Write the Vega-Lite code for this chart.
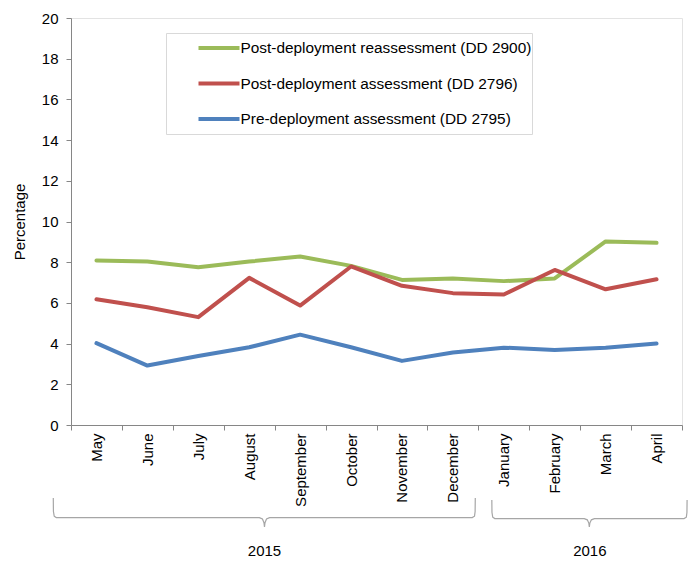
{
  "$schema": "https://vega.github.io/schema/vega-lite/v6.json",
  "width": 611,
  "height": 407,
  "autosize": "none",
  "padding": {"left": 71, "top": 18, "right": 7, "bottom": 139},
  "config": {
    "font": "Liberation Sans",
    "view": {"stroke": "#e3e3e3", "strokeWidth": 1},
    "axis": {"domainColor": "#868686", "tickColor": "#868686", "labelColor": "#000000", "labelFontSize": 15, "titleFontSize": 15, "titleFontWeight": "normal", "titleColor": "#000000", "grid": false}
  },
  "datasets": {
    "series": [
      {"month": "May", "series": "Post-deployment reassessment (DD 2900)", "value": 8.08},
      {"month": "June", "series": "Post-deployment reassessment (DD 2900)", "value": 8.03},
      {"month": "July", "series": "Post-deployment reassessment (DD 2900)", "value": 7.75},
      {"month": "August", "series": "Post-deployment reassessment (DD 2900)", "value": 8.03},
      {"month": "September", "series": "Post-deployment reassessment (DD 2900)", "value": 8.28},
      {"month": "October", "series": "Post-deployment reassessment (DD 2900)", "value": 7.82},
      {"month": "November", "series": "Post-deployment reassessment (DD 2900)", "value": 7.13},
      {"month": "December", "series": "Post-deployment reassessment (DD 2900)", "value": 7.2},
      {"month": "January", "series": "Post-deployment reassessment (DD 2900)", "value": 7.07},
      {"month": "February", "series": "Post-deployment reassessment (DD 2900)", "value": 7.2},
      {"month": "March", "series": "Post-deployment reassessment (DD 2900)", "value": 9.02},
      {"month": "April", "series": "Post-deployment reassessment (DD 2900)", "value": 8.95},
      {"month": "May", "series": "Post-deployment assessment (DD 2796)", "value": 6.18},
      {"month": "June", "series": "Post-deployment assessment (DD 2796)", "value": 5.79},
      {"month": "July", "series": "Post-deployment assessment (DD 2796)", "value": 5.3},
      {"month": "August", "series": "Post-deployment assessment (DD 2796)", "value": 7.23},
      {"month": "September", "series": "Post-deployment assessment (DD 2796)", "value": 5.87},
      {"month": "October", "series": "Post-deployment assessment (DD 2796)", "value": 7.79},
      {"month": "November", "series": "Post-deployment assessment (DD 2796)", "value": 6.84},
      {"month": "December", "series": "Post-deployment assessment (DD 2796)", "value": 6.48},
      {"month": "January", "series": "Post-deployment assessment (DD 2796)", "value": 6.41},
      {"month": "February", "series": "Post-deployment assessment (DD 2796)", "value": 7.62},
      {"month": "March", "series": "Post-deployment assessment (DD 2796)", "value": 6.67},
      {"month": "April", "series": "Post-deployment assessment (DD 2796)", "value": 7.16},
      {"month": "May", "series": "Pre-deployment assessment (DD 2795)", "value": 4.02},
      {"month": "June", "series": "Pre-deployment assessment (DD 2795)", "value": 2.92},
      {"month": "July", "series": "Pre-deployment assessment (DD 2795)", "value": 3.39},
      {"month": "August", "series": "Pre-deployment assessment (DD 2795)", "value": 3.82},
      {"month": "September", "series": "Pre-deployment assessment (DD 2795)", "value": 4.44},
      {"month": "October", "series": "Pre-deployment assessment (DD 2795)", "value": 3.82},
      {"month": "November", "series": "Pre-deployment assessment (DD 2795)", "value": 3.15},
      {"month": "December", "series": "Pre-deployment assessment (DD 2795)", "value": 3.56},
      {"month": "January", "series": "Pre-deployment assessment (DD 2795)", "value": 3.8},
      {"month": "February", "series": "Pre-deployment assessment (DD 2795)", "value": 3.69},
      {"month": "March", "series": "Pre-deployment assessment (DD 2795)", "value": 3.8},
      {"month": "April", "series": "Pre-deployment assessment (DD 2795)", "value": 4.0}
    ],
    "brackets": [
      {"g": "2015", "i": 0, "x": -0.348, "y": -3.59},
      {"g": "2015", "i": 1, "x": -0.345, "y": -4.25},
      {"g": "2015", "i": 2, "x": -0.33, "y": -4.48},
      {"g": "2015", "i": 3, "x": -0.29, "y": -4.55},
      {"g": "2015", "i": 4, "x": 3.70, "y": -4.55},
      {"g": "2015", "i": 5, "x": 3.76, "y": -4.62},
      {"g": "2015", "i": 6, "x": 3.79, "y": -4.8},
      {"g": "2015", "i": 7, "x": 3.80, "y": -5.01},
      {"g": "2015", "i": 8, "x": 3.81, "y": -4.8},
      {"g": "2015", "i": 9, "x": 3.84, "y": -4.62},
      {"g": "2015", "i": 10, "x": 3.90, "y": -4.55},
      {"g": "2015", "i": 11, "x": 7.88, "y": -4.55},
      {"g": "2015", "i": 12, "x": 7.925, "y": -4.48},
      {"g": "2015", "i": 13, "x": 7.937, "y": -4.25},
      {"g": "2015", "i": 14, "x": 7.94, "y": -3.59},
      {"g": "2016", "i": 0, "x": 8.265, "y": -3.69},
      {"g": "2016", "i": 1, "x": 8.268, "y": -4.3},
      {"g": "2016", "i": 2, "x": 8.283, "y": -4.53},
      {"g": "2016", "i": 3, "x": 8.323, "y": -4.6},
      {"g": "2016", "i": 4, "x": 10.08, "y": -4.6},
      {"g": "2016", "i": 5, "x": 10.14, "y": -4.66},
      {"g": "2016", "i": 6, "x": 10.17, "y": -4.82},
      {"g": "2016", "i": 7, "x": 10.18, "y": -5.01},
      {"g": "2016", "i": 8, "x": 10.19, "y": -4.82},
      {"g": "2016", "i": 9, "x": 10.22, "y": -4.66},
      {"g": "2016", "i": 10, "x": 10.28, "y": -4.6},
      {"g": "2016", "i": 11, "x": 12.04, "y": -4.6},
      {"g": "2016", "i": 12, "x": 12.085, "y": -4.53},
      {"g": "2016", "i": 13, "x": 12.097, "y": -4.3},
      {"g": "2016", "i": 14, "x": 12.1, "y": -3.69}
    ],
    "years": [
      {"year": "2015", "x": 3.8, "y": -6.19},
      {"year": "2016", "x": 10.19, "y": -6.19}
    ]
  },
  "layer": [
    {
      "data": {"name": "series"},
      "mark": {"type": "line", "strokeWidth": 4, "strokeCap": "round", "strokeJoin": "round"},
      "encoding": {
        "x": {
          "field": "month", "type": "ordinal", "bandPosition": 0.5,
          "sort": ["May", "June", "July", "August", "September", "October", "November", "December", "January", "February", "March", "April"],
          "scale": {"type": "band", "paddingInner": 0, "paddingOuter": 0},
          "axis": {"title": null, "labelAngle": -90, "labelAlign": "right", "labelBaseline": "middle", "labelPadding": 3, "tickSize": 5, "tickBand": "extent"}
        },
        "y": {
          "field": "value", "type": "quantitative",
          "scale": {"domain": [0, 20], "nice": false, "zero": true},
          "axis": {"title": "Percentage", "values": [0,1,2,3,4,5,6,7,8,9,10,11,12,13,14,15,16,17,18,19,20], "labelExpr": "datum.value % 2 == 0 ? datum.label : ''", "tickSize": 5, "labelPadding": 8, "titleX": -52, "titleY": 203.5, "titleAngle": -90, "titleBaseline": "middle", "titleAlign": "center"}
        },
        "color": {
          "field": "series", "type": "nominal",
          "scale": {"domain": ["Post-deployment reassessment (DD 2900)", "Post-deployment assessment (DD 2796)", "Pre-deployment assessment (DD 2795)"], "range": ["#9BBB59", "#C0504D", "#4F81BD"]},
          "legend": {"title": null, "orient": "none", "legendX": 95, "legendY": 15, "strokeColor": "#d9d9d9", "fillColor": "#ffffff", "padding": 0.5, "clipHeight": 29, "symbolType": "stroke", "symbolStrokeWidth": 4, "symbolSize": 1681, "symbolOffset": 30, "labelOffset": -1, "labelFontSize": 15.4, "labelColor": "#000000", "labelLimit": 0, "rowPadding": 6.5}
        }
      }
    },
    {
      "data": {"name": "brackets"},
      "mark": {"type": "line", "stroke": "#a6a6a6", "strokeWidth": 1.2, "clip": false},
      "encoding": {
        "x": {"field": "x", "type": "quantitative", "scale": {"domain": [0, 12], "nice": false, "zero": false}, "axis": null},
        "y": {"field": "y", "type": "quantitative"},
        "detail": {"field": "g"},
        "order": {"field": "i"}
      }
    },
    {
      "data": {"name": "years"},
      "mark": {"type": "text", "fontSize": 15, "baseline": "middle", "align": "center", "color": "#000000", "clip": false},
      "encoding": {
        "x": {"field": "x", "type": "quantitative", "scale": {"domain": [0, 12], "nice": false, "zero": false}, "axis": null},
        "y": {"field": "y", "type": "quantitative"},
        "text": {"field": "year"}
      }
    }
  ],
  "resolve": {"scale": {"x": "independent"}}
}
